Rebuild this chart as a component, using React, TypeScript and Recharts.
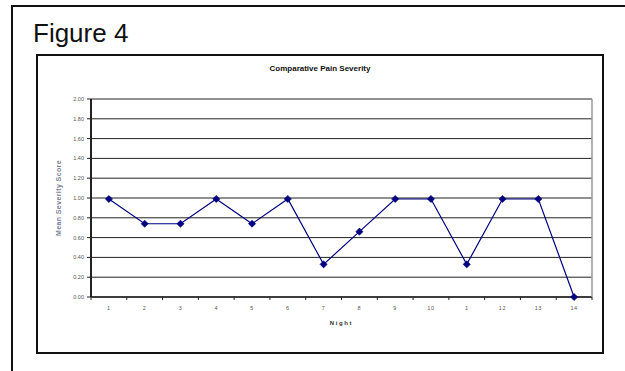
import React from "react";
import {
  LineChart,
  Line,
  XAxis,
  YAxis,
  CartesianGrid,
} from "recharts";

// nightly average severity (0 = none, 2 = max)
const nights = ["1", "2", "3", "4", "5", "6", "7", "8", "9", "10", "1", "12", "13", "14"];
const severity = [0.99, 0.74, 0.74, 0.99, 0.74, 0.99, 0.33, 0.66, 0.99, 0.99, 0.33, 0.99, 0.99, 0.0];
const yTicks = [0, 0.2, 0.4, 0.6, 0.8, 1.0, 1.2, 1.4, 1.6, 1.8, 2.0];

const data = nights.map((night, i) => ({ night, severity: severity[i] }));

const FONT = "Arial, 'Liberation Sans', sans-serif";
const CHART_W = 566;
const CHART_H = 298;
const Y_AXIS_W = 54;
const RIGHT_PAD = 11;
const BAND = (CHART_W - Y_AXIS_W - RIGHT_PAD) / nights.length;

const Diamond = (props: any) => {
  const { cx, cy } = props;
  if (cx == null || cy == null) return null;
  const r = 3.6;
  return (
    <polygon
      points={`${cx},${cy - r} ${cx + r},${cy} ${cx},${cy + r} ${cx - r},${cy}`}
      fill="#000080"
      stroke="#000080"
      strokeWidth={0.6}
    />
  );
};

// category label centred, tick marks on the band edges (Excel style)
const NightTick = (props: any) => {
  const { x, y, payload, index } = props;
  const left = x - BAND / 2;
  return (
    <g>
      <line x1={left} y1={y} x2={left} y2={y + 3} stroke="#222" strokeWidth={1} />
      {index === nights.length - 1 && (
        <line x1={x + BAND / 2} y1={y} x2={x + BAND / 2} y2={y + 3} stroke="#222" strokeWidth={1} />
      )}
      <text
        x={x}
        y={y + 12}
        textAnchor="middle"
        dominantBaseline="middle"
        fontSize={5.5}
        fill="#555"
        fontFamily={FONT}
        letterSpacing={0.6}
      >
        {payload.value}
      </text>
    </g>
  );
};

export default function App() {
  return (
    <div
      style={{
        position: "absolute",
        left: 0,
        top: 0,
        width: 625,
        height: 371,
        overflow: "hidden",
        background: "#fff",
        fontFamily: FONT,
      }}
    >
      {/* page frame */}
      <div
        style={{
          position: "absolute",
          left: 11,
          top: 5,
          width: 700,
          height: 500,
          border: "2px solid #111",
          boxSizing: "border-box",
        }}
      />
      <div
        style={{
          position: "absolute",
          left: 33,
          top: 18,
          fontSize: 26,
          lineHeight: "30px",
          color: "#111",
        }}
      >
        Figure 4
      </div>

      {/* chart box */}
      <div
        style={{
          position: "absolute",
          left: 36,
          top: 54,
          width: 568,
          height: 300,
          border: "2px solid #111",
          boxSizing: "border-box",
        }}
      />
      <div
        style={{
          position: "absolute",
          left: 37,
          top: 64,
          width: 566,
          textAlign: "center",
          fontSize: 8,
          fontWeight: "bold",
          color: "#111",
        }}
      >
        Comparative Pain Severity
      </div>
      <div
        style={{
          position: "absolute",
          left: 58,
          top: 198,
          transform: "translate(-50%, -50%) rotate(-90deg)",
          whiteSpace: "nowrap",
          fontSize: 7,
          fontWeight: "bold",
          color: "#7a7f99",
          letterSpacing: 0.4,
        }}
      >
        Mean Severity Score
      </div>
      <div
        style={{
          position: "absolute",
          left: 91,
          width: 501,
          top: 320,
          textAlign: "center",
          fontSize: 6,
          fontWeight: "bold",
          color: "#333",
          letterSpacing: 1.6,
        }}
      >
        Night
      </div>

      <div style={{ position: "absolute", left: 37, top: 55 }}>
        <LineChart
          width={CHART_W}
          height={CHART_H}
          data={data}
          margin={{ top: 44, right: 0, bottom: 0, left: 0 }}
        >
          <CartesianGrid yAxisId="left" vertical={false} stroke="#222" strokeWidth={1} />
          <XAxis
            dataKey="night"
            height={56}
            interval={0}
            padding={{ left: BAND / 2, right: BAND / 2 }}
            tickLine={false}
            tickSize={0}
            tickMargin={0}
            axisLine={{ stroke: "#222", strokeWidth: 1.5 }}
            tick={<NightTick />}
          />
          <YAxis
            yAxisId="left"
            width={Y_AXIS_W}
            domain={[0, 2]}
            ticks={yTicks}
            interval={0}
            tickFormatter={(v: number) => v.toFixed(2)}
            tickSize={4}
            tickMargin={3}
            tickLine={{ stroke: "#222" }}
            axisLine={{ stroke: "#222", strokeWidth: 2 }}
            tick={{ fontSize: 5.5, fill: "#555", fontFamily: FONT }}
          />
          <YAxis
            yAxisId="right"
            orientation="right"
            width={RIGHT_PAD}
            domain={[0, 2]}
            tick={false}
            tickLine={false}
            axisLine={{ stroke: "#999", strokeWidth: 1.5 }}
          />
          <Line
            yAxisId="left"
            type="linear"
            dataKey="severity"
            stroke="#000080"
            strokeWidth={1.2}
            dot={<Diamond />}
            activeDot={false}
            isAnimationActive={false}
          />
        </LineChart>
      </div>
    </div>
  );
}
